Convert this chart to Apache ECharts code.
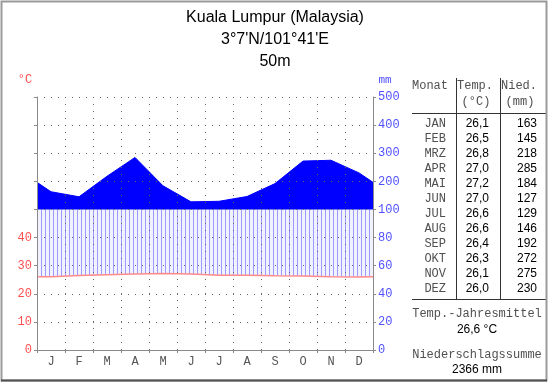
<!DOCTYPE html>
<html><head><meta charset="utf-8">
<script src="https://cdn.jsdelivr.net/npm/echarts@6/dist/echarts.min.js"></script>
<style>html,body{margin:0;padding:0;background:#fff}#c{width:550px;height:384px}</style>
</head><body><div id="c"></div>
<script>
const months = ['J','F','M','A','M','J','J','A','S','O','N','D'];
const monthNames = ['JAN','FEB','MRZ','APR','MAI','JUN','JUL','AUG','SEP','OKT','NOV','DEZ'];
const temps = [26.1,26.5,26.8,27.0,27.2,27.0,26.6,26.6,26.4,26.3,26.1,26.0];
const precip = [163,145,218,285,184,127,129,146,192,272,275,230];
const titleLines = ['Kuala Lumpur (Malaysia)', "3°7'N/101°41'E", '50m'];
const meanTempText = '26,6 °C';
const totalPrecipText = '2366 mm';
const tempLabelMax = 40;

// Walter-Lieth scale: 10 °C = 20 mm; above 100 mm scale is compressed 1:5 (in axis units)
function mmToAxis(v){ return v <= 100 ? v : 100 + (v - 100) / 5; }
function axisToMm(a){ return a <= 100 ? a : 100 + (a - 100) * 5; }

// month-centre points, plus wrap-around values at the year edges
const edgeP = (precip[11] + precip[0]) / 2;
const precipPts = [[0, mmToAxis(edgeP)]].concat(precip.map((p,i)=>[i+0.5, mmToAxis(p)])).concat([[12, mmToAxis(edgeP)]]);
const edgeT = (temps[11] + temps[0]) / 2;
const tempPts = [[0, edgeT]].concat(temps.map((t,i)=>[i+0.5, t])).concat([[12, edgeT]]);
const precipRaw = [[0, edgeP]].concat(precip.map((p,i)=>[i+0.5, p])).concat([[12, edgeP]]);

function interp(pts, x){
  for (let j = 0; j < pts.length - 1; j++) {
    if (x >= pts[j][0] && x <= pts[j+1][0]) {
      const f = (x - pts[j][0]) / (pts[j+1][0] - pts[j][0]);
      return pts[j][1] + f * (pts[j+1][1] - pts[j][1]);
    }
  }
  return pts[pts.length-1][1];
}

const fmt = v => v.toFixed(1).replace('.', ',');
const mono = 'Liberation Mono';
const sans = 'Liberation Sans';

const graphic = [
  {type:'rect', shape:{x:1.5, y:1.5, width:545, height:379}, style:{fill:'none', stroke:'#9a9a9a', lineWidth:2}, z:10},
  {type:'line', shape:{x1:1, y1:380.5, x2:547, y2:380.5}, style:{stroke:'#505050', lineWidth:2}, z:11},
];
titleLines.forEach((t,i)=>graphic.push({type:'text', x:275, y:18 + i*22, style:{text:t, font:'16px '+sans, fill:'#000', textAlign:'center', textVerticalAlign:'middle'}}));
graphic.push({type:'text', x:25, y:80, style:{text:'°C', font:'12px '+mono, fill:'#ff5050', textAlign:'center', textVerticalAlign:'middle'}});
graphic.push({type:'text', x:385, y:80, style:{text:'mm', font:'11px '+mono, fill:'#5050ff', textAlign:'center', textVerticalAlign:'middle'}});
// table
const tc = '#505050';
graphic.push({type:'text', x:430, y:86, style:{text:'Monat', font:'12px '+mono, fill:tc, textAlign:'center', textVerticalAlign:'middle'}});
graphic.push({type:'text', x:475, y:86, style:{text:'Temp.', font:'12px '+mono, fill:tc, textAlign:'center', textVerticalAlign:'middle'}});
graphic.push({type:'text', x:476, y:102, style:{text:'(°C)', font:'12px '+mono, fill:tc, textAlign:'center', textVerticalAlign:'middle'}});
graphic.push({type:'text', x:519, y:86, style:{text:'Nied.', font:'12px '+mono, fill:tc, textAlign:'center', textVerticalAlign:'middle'}});
graphic.push({type:'text', x:520, y:102, style:{text:'(mm)', font:'12px '+mono, fill:tc, textAlign:'center', textVerticalAlign:'middle'}});
graphic.push({type:'line', shape:{x1:412, y1:113.5, x2:546, y2:113.5}, style:{stroke:'#333', lineWidth:1}});
graphic.push({type:'line', shape:{x1:412, y1:299.5, x2:546, y2:299.5}, style:{stroke:'#333', lineWidth:1}});
graphic.push({type:'line', shape:{x1:456.5, y1:78, x2:456.5, y2:300}, style:{stroke:'#333', lineWidth:1}});
graphic.push({type:'line', shape:{x1:500.5, y1:78, x2:500.5, y2:300}, style:{stroke:'#333', lineWidth:1}});
monthNames.forEach((m,i)=>{
  const y = 124 + i*15;
  graphic.push({type:'text', x:446, y:y, style:{text:m, font:'12px '+mono, fill:tc, textAlign:'right', textVerticalAlign:'middle'}});
  graphic.push({type:'text', x:489, y:y, style:{text:fmt(temps[i]), font:'12px '+sans, fill:'#000', textAlign:'right', textVerticalAlign:'middle'}});
  graphic.push({type:'text', x:537, y:y, style:{text:String(precip[i]), font:'12px '+sans, fill:'#000', textAlign:'right', textVerticalAlign:'middle'}});
});
graphic.push({type:'text', x:477, y:314, style:{text:'Temp.-Jahresmittel', font:'12px '+mono, fill:tc, textAlign:'center', textVerticalAlign:'middle'}});
graphic.push({type:'text', x:477, y:330, style:{text:meanTempText, font:'12px '+sans, fill:'#000', textAlign:'center', textVerticalAlign:'middle'}});
graphic.push({type:'text', x:477, y:355, style:{text:'Niederschlagssumme', font:'12px '+mono, fill:tc, textAlign:'center', textVerticalAlign:'middle'}});
graphic.push({type:'text', x:477, y:370, style:{text:totalPrecipText, font:'12px '+sans, fill:'#000', textAlign:'center', textVerticalAlign:'middle'}});

const axisGray = '#8a8a8a';
const hatchColor = '#a0a0ff';
const chart = echarts.init(document.getElementById('c'), null, {renderer:'canvas'});
chart.setOption({
  animation:false,
  backgroundColor:'#fff',
  grid:{left:37, right:177, top:97, bottom:34, containLabel:false, outerBoundsMode:'none'},
  xAxis:[
    {type:'value', min:0, max:12, show:false},
    {type:'category', data:months, boundaryGap:true, position:'bottom', z:5,
     axisLine:{show:true, lineStyle:{color:axisGray, width:1}},
     axisTick:{show:true, interval:0, length:3, lineStyle:{color:axisGray}},
     axisLabel:{interval:0, color:'#555', fontFamily:mono, fontSize:12, margin:6},
     splitLine:{show:true, interval:0, lineStyle:{color:'#666', width:1, type:[1,6]}}}
  ],
  yAxis:[
    {type:'value', min:0, max:90, interval:10, position:'left', z:5,
     axisLine:{show:true, lineStyle:{color:axisGray}},
     axisTick:{show:true, length:3, lineStyle:{color:axisGray}},
     axisLabel:{formatter:v=> v <= tempLabelMax ? String(v) : '', color:'#ff5050', fontFamily:mono, fontSize:12, margin:5},
     splitLine:{show:true, lineStyle:{color:'#666', width:1, type:[1,6]}}},
    {type:'value', min:0, max:180, interval:20, position:'right', z:5,
     axisLine:{show:true, lineStyle:{color:axisGray}},
     axisTick:{show:true, length:3, lineStyle:{color:axisGray}},
     axisLabel:{formatter:v=>String(axisToMm(v)), color:'#5050ff', fontFamily:mono, fontSize:12, margin:5},
     splitLine:{show:false}}
  ],
  series:[
    // light tint of the humid period (temperature curve up to 100 mm = 50 °C on the temperature axis)
    {type:'line', xAxisIndex:0, yAxisIndex:0, data:tempPts, symbol:'none', z:1, silent:true,
     lineStyle:{width:0, opacity:0}, areaStyle:{color:'rgba(110,110,255,0.12)', origin:50}},
    {type:'line', xAxisIndex:0, yAxisIndex:1, data:precipPts, symbol:'none', z:2, silent:true,
     lineStyle:{color:'#0000ff', width:1}, areaStyle:{color:'#0000ff', opacity:1, origin:100}},
    {type:'line', xAxisIndex:0, yAxisIndex:0, data:tempPts, symbol:'none', z:3, silent:true,
     lineStyle:{color:'#ff8a8a', width:1.5}}
  ]
});

// humid-period hatching: vertical strokes from the temperature curve up to min(precip, 100 mm),
// positioned through the chart's own axes
const finder = {xAxisIndex:0, yAxisIndex:0};
for (let k = 1; k < 84; k++) {
  const x = k / 7;
  const t = interp(tempPts, x);
  const top = Math.min(interp(precipRaw, x), 100) / 2;
  if (top <= t) continue;
  const p0 = chart.convertToPixel(finder, [x, t]);
  const p1 = chart.convertToPixel(finder, [x, top]);
  const px = Math.round(p0[0]) + 0.5;
  graphic.push({type:'line', z:-1, silent:true, shape:{x1:px, y1:p0[1], x2:px, y2:p1[1]}, style:{stroke:hatchColor, lineWidth:1}});
}
chart.setOption({graphic:graphic});
</script></body></html>
